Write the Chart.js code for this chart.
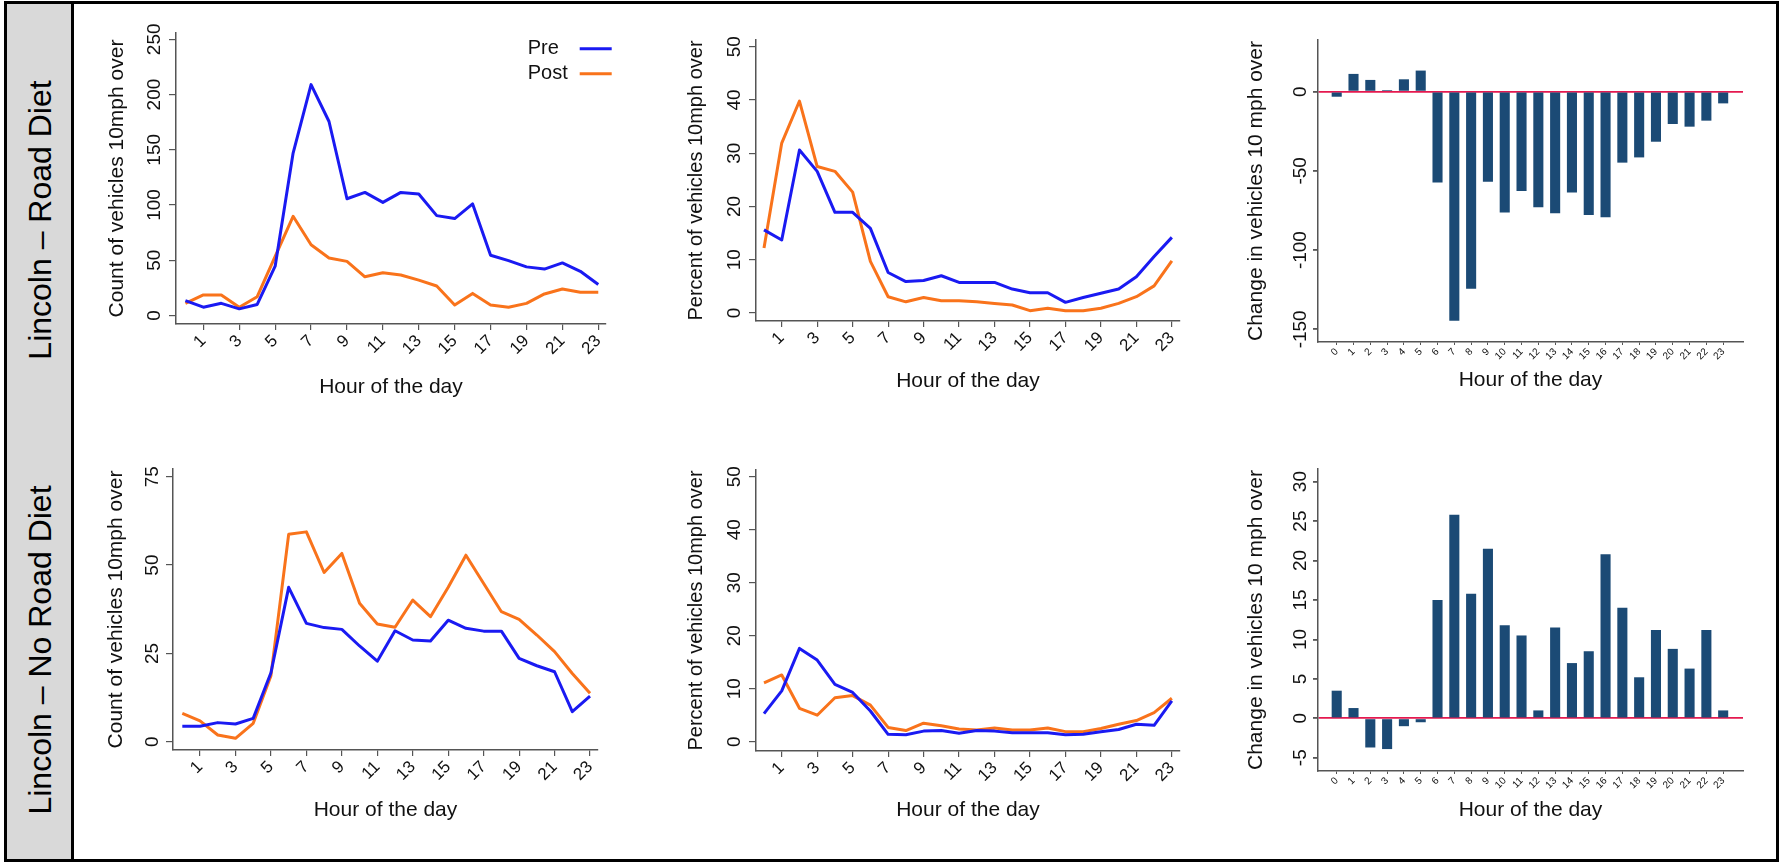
<!DOCTYPE html>
<html>
<head>
<meta charset="utf-8">
<script src="https://cdn.jsdelivr.net/npm/chart.js@4.4.1/dist/chart.umd.min.js"></script>
<style>
html,body{margin:0;padding:0;background:#fff;width:1781px;height:863px;overflow:hidden;}
.frame{position:absolute;left:4px;top:1px;width:1775px;height:861px;border:3px solid #000;box-sizing:border-box;}
.side{position:absolute;left:7px;top:4px;width:64px;height:855px;background:#d9d9d9;}
.sep{position:absolute;left:71px;top:4px;width:3px;height:855px;background:#000;}
.rowlab{position:absolute;font-family:'Liberation Sans',Arial,sans-serif;font-size:32px;line-height:32px;white-space:nowrap;color:#000;transform:translate(-50%,-50%) rotate(-90deg);}
canvas{position:absolute;}
</style>
</head>
<body>
<div class="frame"></div>
<div class="side"></div>
<div class="sep"></div>
<div class="rowlab" style="left:40px;top:220px">Lincoln – Road Diet</div>
<div class="rowlab" style="left:40px;top:650px">Lincoln – No Road Diet</div>
<canvas id="cA"></canvas>
<canvas id="cB"></canvas>
<canvas id="cC"></canvas>
<canvas id="cD"></canvas>
<canvas id="cE"></canvas>
<canvas id="cF"></canvas>
<script>
// ---------------- DATA ----------------
const hours = [0,1,2,3,4,5,6,7,8,9,10,11,12,13,14,15,16,17,18,19,20,21,22,23];
const lineHourTicks = [1,3,5,7,9,11,13,15,17,19,21,23];
const barHourTicks = [0,1,2,3,4,5,6,7,8,9,10,11,12,13,14,15,16,17,18,19,20,21,22,23];
const seriesNames = ['Pre', 'Post'];

const roadDietCountPre  = [13.5, 7.5, 11, 6, 10, 44.6, 147, 209, 175.6, 105.7, 111.4, 102.4, 111.4, 110, 90.4, 87.7, 101, 54.5, 49.7, 44, 42, 47.6, 40, 28];
const roadDietCountPost = [11, 18.6, 18.6, 7.4, 17, 53.6, 89.8, 64, 52, 49, 35, 38.7, 36.6, 32, 26.7, 9.5, 20, 9.5, 7.4, 11, 19.5, 24, 21, 21];
const roadDietPctPre    = [15.6, 13.7, 30.6, 26.6, 18.9, 18.9, 15.9, 7.6, 5.9, 6.1, 7.0, 5.75, 5.75, 5.75, 4.5, 3.8, 3.8, 2.0, 2.9, 3.7, 4.5, 6.8, 10.6, 14.2];
const roadDietPctPost   = [12.2, 31.9, 39.8, 27.5, 26.6, 22.7, 9.7, 3.06, 2.1, 2.9, 2.3, 2.3, 2.1, 1.8, 1.5, 0.44, 0.9, 0.44, 0.44, 0.9, 1.8, 3.06, 5.1, 9.8];
const roadDietChange    = [-3.2, 11.2, 7.4, 1, 7.8, 13.3, -57.4, -144.6, -124.4, -56.8, -76.2, -62.7, -73, -76.8, -63.6, -77.9, -79.3, -44.8, -41.5, -31.6, -20.4, -22.1, -18.3, -7.4];

const noDietCountPre    = [4.4, 4.4, 5.4, 5.0, 6.6, 19.5, 43.7, 33.5, 32.3, 31.8, 27.1, 22.8, 31.4, 28.8, 28.5, 34.4, 32.1, 31.3, 31.3, 23.6, 21.5, 19.8, 8.5, 12.9];
const noDietCountPost   = [8.0, 5.9, 1.9, 0.95, 5.2, 18.7, 58.7, 59.4, 47.9, 53.3, 39.2, 33.3, 32.4, 40.1, 35.4, 43.7, 52.8, 44.8, 36.8, 34.6, 30.2, 25.5, 19.3, 13.7];
const noDietPctPre      = [5.3, 9.6, 17.6, 15.4, 10.8, 9.3, 5.8, 1.4, 1.3, 2.0, 2.1, 1.6, 2.1, 2.0, 1.7, 1.7, 1.7, 1.3, 1.4, 1.9, 2.3, 3.3, 3.1, 7.7];
const noDietPctPost     = [11.1, 12.6, 6.3, 5.0, 8.3, 8.7, 6.9, 2.7, 2.1, 3.5, 3.0, 2.4, 2.2, 2.6, 2.2, 2.2, 2.6, 1.9, 1.9, 2.5, 3.3, 4.0, 5.5, 8.2];
const noDietChange      = [3.5, 1.3, -3.7, -3.9, -1, -0.5, 15, 25.8, 15.8, 21.5, 11.8, 10.5, 1, 11.5, 7, 8.5, 20.8, 14, 5.2, 11.2, 8.8, 6.3, 11.2, 1];

const countRoadTicks  = [0, 50, 100, 150, 200, 250];
const pctTicks        = [0, 10, 20, 30, 40, 50];
const changeRoadTicks = [-150, -100, -50, 0];
const countNoTicks    = [0, 25, 50, 75];
const changeNoTicks   = [-5, 0, 5, 10, 15, 20, 25, 30];

const xTitle = 'Hour of the day';
const countTitle = 'Count of vehicles 10mph over';
const pctTitle = 'Percent of vehicles 10mph over';
const changeTitle = 'Change in vehicles 10 mph over';

// ---------------- STYLE ----------------
const FONT = "'Liberation Sans', Arial, Helvetica, sans-serif";
const BLUE = '#1a1af2';
const ORANGE = '#f9731b';
const NAVY = '#1b4a75';
const ZERO = '#e4194f';
const AXIS = '#555555';
const TEXT = '#111111';
Chart.defaults.font.family = FONT;
Chart.defaults.color = TEXT;

function place(id, g) {
  const el = document.getElementById(id);
  el.width = g.w; el.height = g.h;
  el.style.left = g.x + 'px'; el.style.top = g.y + 'px';
  el.style.width = g.w + 'px'; el.style.height = g.h + 'px';
  return el;
}
function pts(values) { return hours.map((h, i) => ({x: h, y: values[i]})); }

const legendMover = {
  id: 'legendMover',
  afterLayout(chart) {
    const lg = chart.legend;
    const g = chart.options.plugins.legendMover;
    if (!lg || !g) return;
    const pad = chart.options.plugins.legend.labels.padding;
    lg.left = g.textLeft - g.cx;
    lg.top = g.top - g.cy;
    lg.width = g.boxRight - g.textLeft + pad;
    lg.right = lg.left + lg.width;
    lg.bottom = lg.top + 300;
  }
};

function lineChart(id, g, pre, post, yTicks, yTitle, yTitleSize, legend) {
  const el = place(id, g);
  return new Chart(el, {
    type: 'line',
    data: {
      datasets: [
        {label: seriesNames[0], data: pts(pre), borderColor: BLUE, backgroundColor: BLUE, borderWidth: 3, pointRadius: 0, tension: 0, borderJoinStyle: 'round'},
        {label: seriesNames[1], data: pts(post), borderColor: ORANGE, backgroundColor: ORANGE, borderWidth: 3, pointRadius: 0, tension: 0, borderJoinStyle: 'round'}
      ]
    },
    options: {
      responsive: false, animation: false, devicePixelRatio: 1,
      layout: {padding: {left: 0, top: g.padTop, right: g.padRight, bottom: 0}},
      plugins: {
        tooltip: {enabled: false},
        legend: legend ? {
          display: true, position: 'chartArea', align: 'start', rtl: true,
          labels: {usePointStyle: true, pointStyle: 'line', pointStyleWidth: 32, boxHeight: 20,
                   padding: 5, textAlign: 'right', color: TEXT, font: {size: 20, family: FONT}}
        } : {display: false},
        legendMover: legend ? {cx: g.x, cy: g.y, textLeft: 527.7, boxRight: 611.7, top: 33.75} : false
      },
      scales: {
        x: {
          type: 'linear', min: g.xmin, max: g.xmax, offset: false,
          afterBuildTicks: s => { s.ticks = lineHourTicks.map(v => ({value: v})); },
          afterFit: s => { s.height = g.hx; },
          ticks: {autoSkip: false, minRotation: 45, maxRotation: 45, padding: 1, color: TEXT,
                  font: {size: 17, family: FONT}, callback: v => String(v)},
          grid: {drawOnChartArea: false, drawTicks: true, tickLength: 6, color: AXIS, lineWidth: 1.2, offset: false},
          border: {display: true, color: AXIS, width: 1.5},
          title: {display: true, text: xTitle, color: TEXT, font: {size: 21, family: FONT}, padding: {top: 0, bottom: 0}}
        },
        y: {
          type: 'linear', min: g.ymin, max: g.ymax,
          afterBuildTicks: s => { s.ticks = yTicks.map(v => ({value: v})); },
          afterFit: s => { s.width = g.wy; },
          ticks: {minRotation: 90, maxRotation: 90, crossAlign: 'center', padding: g.tpad, color: TEXT,
                  font: {size: 19, family: FONT}, callback: v => String(v)},
          grid: {drawOnChartArea: false, drawTicks: true, tickLength: 7, color: AXIS, lineWidth: 1.2},
          border: {display: true, color: AXIS, width: 1.5},
          title: {display: true, text: yTitle, color: TEXT, font: {size: yTitleSize, family: FONT}, padding: {top: 0, bottom: 0}}
        }
      }
    },
    plugins: legend ? [legendMover] : []
  });
}

function barChart(id, g, values, yTicks, yTitle) {
  const el = place(id, g);
  return new Chart(el, {
    type: 'bar',
    data: {
      datasets: [{label: 'Change', data: pts(values), backgroundColor: NAVY, borderWidth: 0,
                  barPercentage: 0.6, categoryPercentage: 1}]
    },
    options: {
      responsive: false, animation: false, devicePixelRatio: 1,
      layout: {padding: {left: 0, top: g.padTop, right: g.padRight, bottom: 0}},
      plugins: {tooltip: {enabled: false}, legend: {display: false}},
      scales: {
        x: {
          type: 'linear', min: g.xmin, max: g.xmax, offset: false,
          afterBuildTicks: s => { s.ticks = barHourTicks.map(v => ({value: v})); },
          afterFit: s => { s.height = g.hx; },
          ticks: {autoSkip: false, minRotation: 45, maxRotation: 45, padding: 1, color: TEXT,
                  font: {size: 10, family: FONT}, callback: v => String(v)},
          grid: {drawOnChartArea: false, drawTicks: true, tickLength: 3, color: AXIS, lineWidth: 1, offset: false},
          border: {display: true, color: AXIS, width: 1.5},
          title: {display: true, text: xTitle, color: TEXT, font: {size: 21, family: FONT}, padding: {top: 0, bottom: 0}}
        },
        y: {
          type: 'linear', min: g.ymin, max: g.ymax, z: 1,
          afterBuildTicks: s => { s.ticks = yTicks.map(v => ({value: v})); },
          afterFit: s => { s.width = g.wy; },
          ticks: {minRotation: 90, maxRotation: 90, crossAlign: 'center', padding: g.tpad, color: TEXT,
                  font: {size: 19, family: FONT}, callback: v => String(v)},
          grid: {drawOnChartArea: true, drawTicks: true, tickLength: 5,
                 color: c => (c.tick && c.tick.value === 0) ? ZERO : 'rgba(0,0,0,0)',
                 tickColor: AXIS, lineWidth: 1.8},
          border: {display: true, color: AXIS, width: 1.5},
          title: {display: true, text: yTitle, color: TEXT, font: {size: 21, family: FONT}, padding: {top: 0, bottom: 0}}
        }
      }
    }
  });
}

// ---------------- LAYOUT (positions of the six panels) ----------------
const gA = {x: 105, y: 13, w: 516, h: 387, wy: 71, hx: 76, padTop: 20, padRight: 15, xmin: -0.524, xmax: 23.43, ymin: -7.7, ymax: 255.7, tpad: -1.85};
const gB = {x: 684, y: 20, w: 511, h: 374, wy: 72, hx: 73, padTop: 20, padRight: 15, xmin: -0.451, xmax: 23.46, ymin: -1.5, ymax: 51.26, tpad: 3.44};
const gC = {x: 1244, y: 20, w: 504, h: 373, wy: 74, hx: 51, padTop: 20, padRight: 5, xmin: -1.113, xmax: 24.18, ymin: -158, ymax: 32.6, tpad: -7};
const gD = {x: 104, y: 449, w: 509, h: 374, wy: 69, hx: 73, padTop: 20, padRight: 15, xmin: -0.525, xmax: 23.45, ymin: -2.35, ymax: 77.2, tpad: 2.94};
const gE = {x: 684, y: 450, w: 511, h: 373, wy: 72, hx: 72, padTop: 20, padRight: 15, xmin: -0.451, xmax: 23.46, ymin: -1.75, ymax: 51.26, tpad: 3.44};
const gF = {x: 1244, y: 449, w: 504, h: 374, wy: 74, hx: 52, padTop: 20, padRight: 5, xmin: -1.113, xmax: 24.18, ymin: -6.68, ymax: 31.6, tpad: 1.44};

lineChart('cA', gA, roadDietCountPre, roadDietCountPost, countRoadTicks, countTitle, 21, true);
lineChart('cB', gB, roadDietPctPre, roadDietPctPost, pctTicks, pctTitle, 20, false);
barChart('cC', gC, roadDietChange, changeRoadTicks, changeTitle);
lineChart('cD', gD, noDietCountPre, noDietCountPost, countNoTicks, countTitle, 21, false);
lineChart('cE', gE, noDietPctPre, noDietPctPost, pctTicks, pctTitle, 20, false);
barChart('cF', gF, noDietChange, changeNoTicks, changeTitle);
</script>
</body>
</html>
